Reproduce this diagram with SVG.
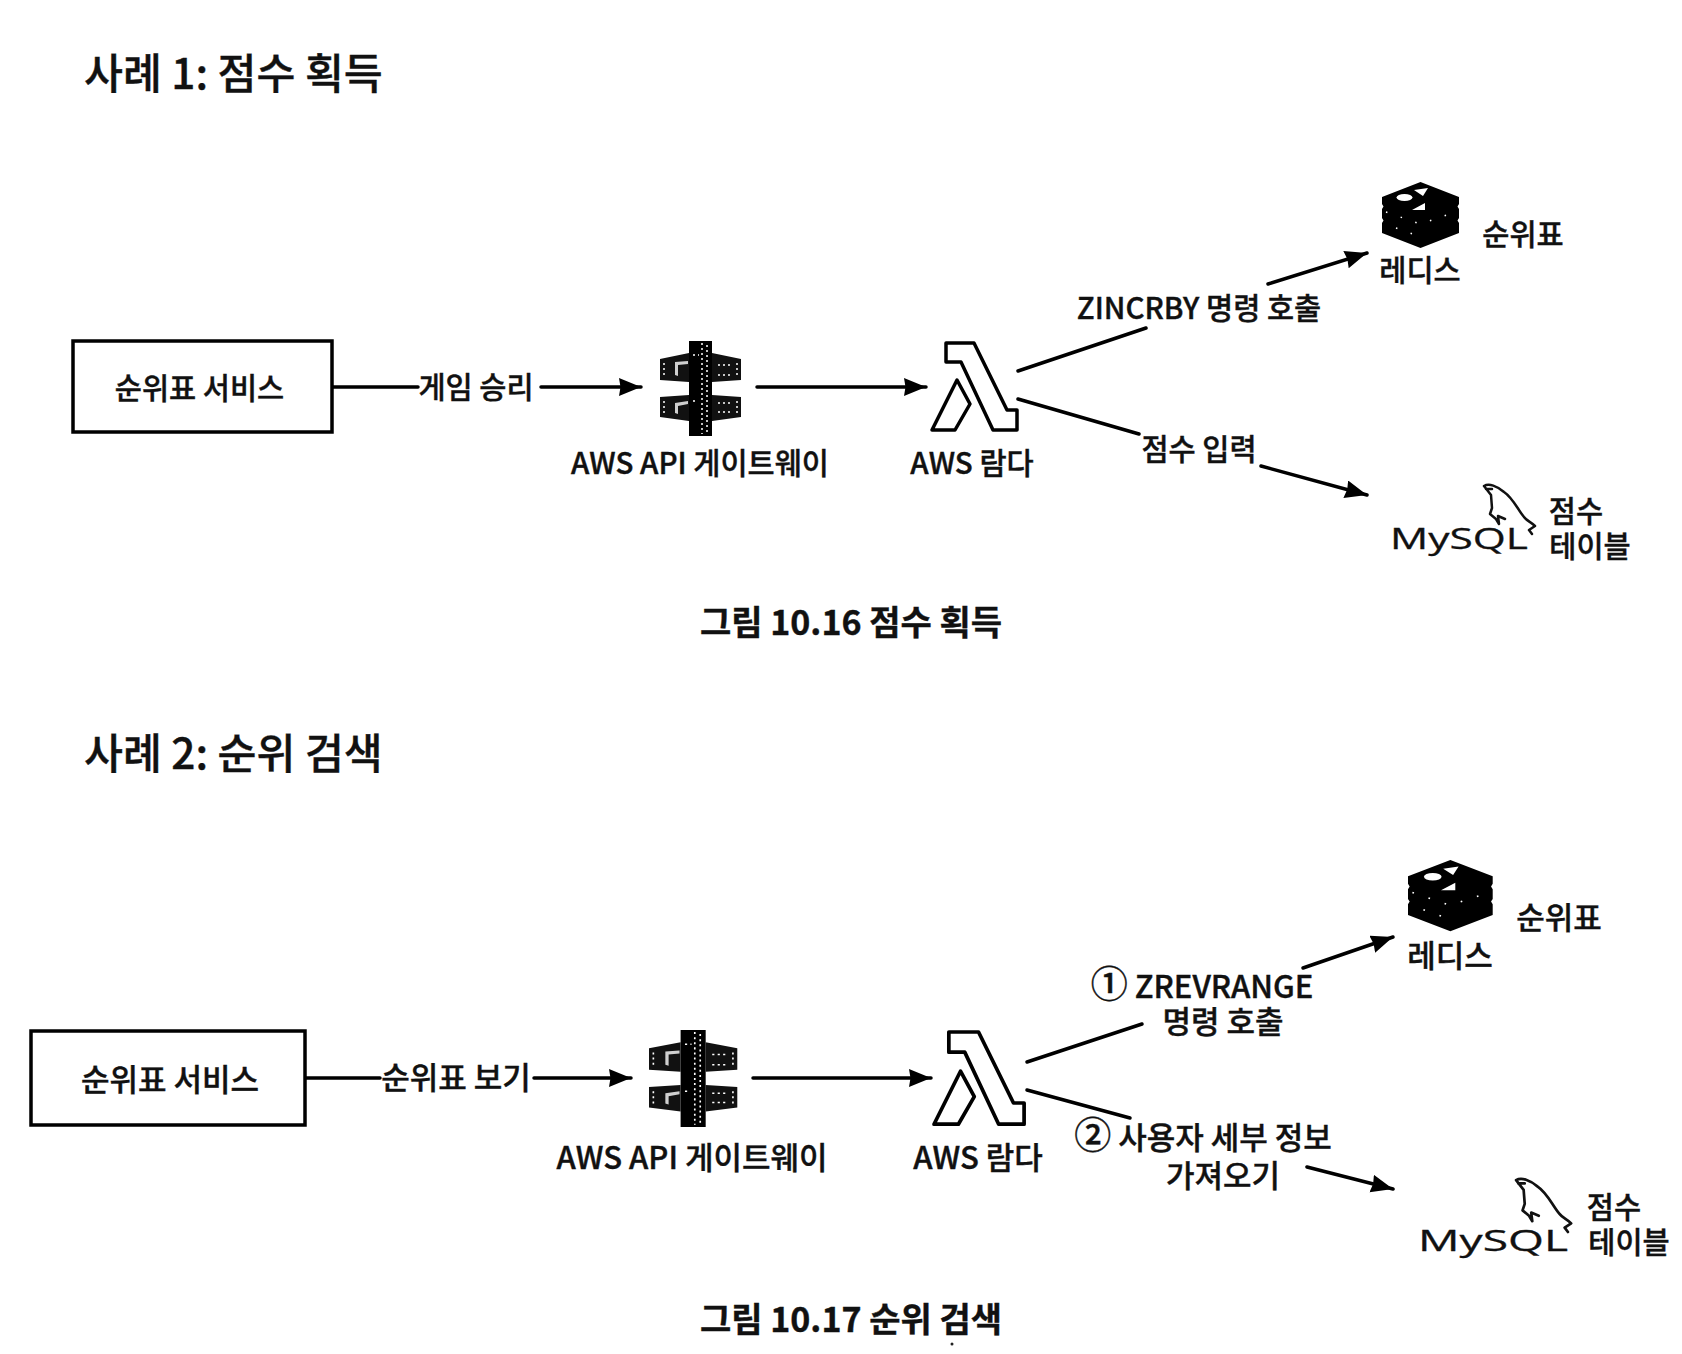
<svg xmlns="http://www.w3.org/2000/svg" width="1682" height="1354" viewBox="0 0 1682 1354">
<style>
text{font-family:"Noto Sans CJK KR","Noto Sans",sans-serif;font-weight:500;fill:#111;stroke:#111;stroke-width:.4;text-anchor:middle;font-size:29.500px}
.title{font-size:42.300px;text-anchor:start}
.cap{font-weight:700;font-size:34px}
.lg{font-size:31px}
.num{font-size:37px}
.my{font-family:"Open Sans","Liberation Sans",sans-serif;font-weight:400;text-anchor:start;stroke-width:.3}
.ln{fill:none;stroke:#000;stroke-width:3.5;stroke-linecap:round}
.ar{marker-end:url(#a)}
.box{fill:#fff;stroke:#000;stroke-width:3.500}
.lam{fill:#fff;stroke:#000;stroke-width:3.500;stroke-linejoin:round}
.wh{fill:#fff}
.sp{fill:none;stroke:#fff;stroke-width:1.500;stroke-dasharray:2 3}
.sd{fill:none;stroke:#fff;stroke-width:1.500;stroke-dasharray:1.500 14}
.dol{fill:none;stroke:#111;stroke-width:2.500;stroke-linejoin:round;stroke-linecap:round}
</style>
<defs>
<marker id="a" markerUnits="userSpaceOnUse" markerWidth="24" markerHeight="20" refX="22" refY="9" orient="auto"><path d="M0 0L22 9L0 18L1.500 9Z" fill="#000"/></marker>
<g id="gw">
<path d="M0 18L29 12V41L0 39ZM52 12L81 18V39L52 41ZM0 56L29 54V80L0 76ZM52 54L81 56V76L52 80Z" fill="#111"/>
<path d="M29 0H52V95H29Z" fill="#000"/>
<path class="sp" d="M42 2V93M47 4V91M33 14H39M33 60H38"/>
<path class="wh" d="M15 21L28 20L28 23L18 24L18 35L15 34ZM15 62L28 60L28 63L18 65L18 73L15 72Z" opacity=".8"/>
<path class="sp" d="M4 22V36M4 60V74M77 22V36M77 60V74M58 24H70M58 34H70M58 62H70M58 71H70"/>
</g>
<g id="lm">
<path class="lam" d="M14 0H42L75 67H85V87H61L29 19H14Z"/>
<path class="lam" d="M25 37L38 61L23 87H0Z"/>
</g>
<g id="rd">
<path d="M38.500 0L77 15V22L75.500 24.500L77 27V36L75.500 38.500L77 41V51L38.500 66L0 51V41L1.500 38.500L0 36V27L1.500 24.500L0 22V15Z" fill="#000"/>
<ellipse class="wh" cx="22.500" cy="15.500" rx="8" ry="3.500"/>
<path class="wh" d="M32 8L46 6L41 14ZM30 28L43 21L43 28Z"/>
<path class="sd" d="M4 30L38 42L74 30M14 46L36 54"/>
</g>
<path id="dl" class="dol" d="M1 2C6 -1 14 2 21 8C30 14 35 26 41 33C44 37 48 38 52 42L46 46L49 50M1 2L8 11L9 24L7 30L13 35L16 40L15 32L22 35M3 5H9"/>
</defs>
<rect width="1682" height="1354" fill="#fff"/>

<g id="connectors">
<path class="ln" d="M332 387H418"/>
<path class="ln ar" d="M541 387H641"/>
<path class="ln ar" d="M757 387H926"/>
<path class="ln" d="M1018 371L1146 328"/>
<path class="ln ar" d="M1268 284L1367 253"/>
<path class="ln" d="M1018 399L1139 434"/>
<path class="ln ar" d="M1261 466L1367 495"/>
<path class="ln" d="M305 1078H380"/>
<path class="ln ar" d="M534 1078H631"/>
<path class="ln ar" d="M753 1078H931"/>
<path class="ln" d="M1027 1062L1142 1024"/>
<path class="ln ar" d="M1303 968L1393 937"/>
<path class="ln" d="M1027 1090L1130 1118"/>
<path class="ln ar" d="M1307 1167L1393 1189"/>
</g>

<g id="title1"><text class="title" x="84" y="89">사례 1: 점수 획득</text></g>
<g id="service1"><rect class="box" x="73" y="341" width="259" height="91"/><text x="199.500" y="399">순위표 서비스</text></g>
<g id="label-win"><text x="476" y="398">게임 승리</text></g>
<g id="gateway1"><use href="#gw" x="660" y="341"/><text x="700" y="474">AWS API 게이트웨이</text></g>
<g id="lambda1"><use href="#lm" x="932" y="343"/><text x="972" y="474">AWS 람다</text></g>
<g id="label-zincrby"><text x="1199" y="319">ZINCRBY 명령 호출</text></g>
<g id="label-score-in"><text x="1199" y="460">점수 입력</text></g>
<g id="redis1"><use href="#rd" x="1382" y="182"/><text x="1420" y="281">레디스</text><text x="1523" y="245">순위표</text></g>
<g id="mysql1"><use href="#dl" x="1483" y="484"/><text class="my" x="1390" y="549" font-size="25" textLength="138" lengthAdjust="spacingAndGlyphs">MySQL</text><text x="1576" y="522">점수</text><text x="1590" y="557">테이블</text></g>
<g id="caption1"><text class="cap" x="851" y="635">그림 10.16 점수 획득</text></g>

<g id="title2"><text class="title" x="84" y="769">사례 2: 순위 검색</text></g>
<g id="service2"><rect class="box" x="31" y="1031" width="274" height="94"/><text class="lg" x="170" y="1091">순위표 서비스</text></g>
<g id="label-view"><text class="lg" x="456" y="1089">순위표 보기</text></g>
<g id="gateway2"><use href="#gw" transform="translate(649 1030) scale(1.09 1.02)"/><text class="lg" x="692" y="1169">AWS API 게이트웨이</text></g>
<g id="lambda2"><use href="#lm" transform="translate(934 1032) scale(1.06)"/><text class="lg" x="978" y="1169">AWS 람다</text></g>
<g id="label-zrev"><text class="lg" x="1202" y="998"><tspan class="num">①</tspan> ZREVRANGE</text><text class="lg" x="1223" y="1033">명령 호출</text></g>
<g id="label-detail"><text class="lg" x="1203" y="1149"><tspan class="num">②</tspan> 사용자 세부 정보</text><text class="lg" x="1223" y="1187">가져오기</text></g>
<g id="redis2"><use href="#rd" transform="translate(1408 860) scale(1.1 1.08)"/><text class="lg" x="1450" y="967">레디스</text><text class="lg" x="1559" y="929">순위표</text></g>
<g id="mysql2"><use href="#dl" transform="translate(1515 1178) scale(1.08)"/><text class="my" x="1418" y="1251" font-size="27" textLength="150" lengthAdjust="spacingAndGlyphs">MySQL</text><text x="1614" y="1218">점수</text><text x="1629" y="1253">테이블</text></g>
<g id="caption2"><text class="cap" x="851" y="1332">그림 10.17 순위 검색</text></g>
<circle cx="952" cy="1344" r="1.500" fill="#222"/>
</svg>
